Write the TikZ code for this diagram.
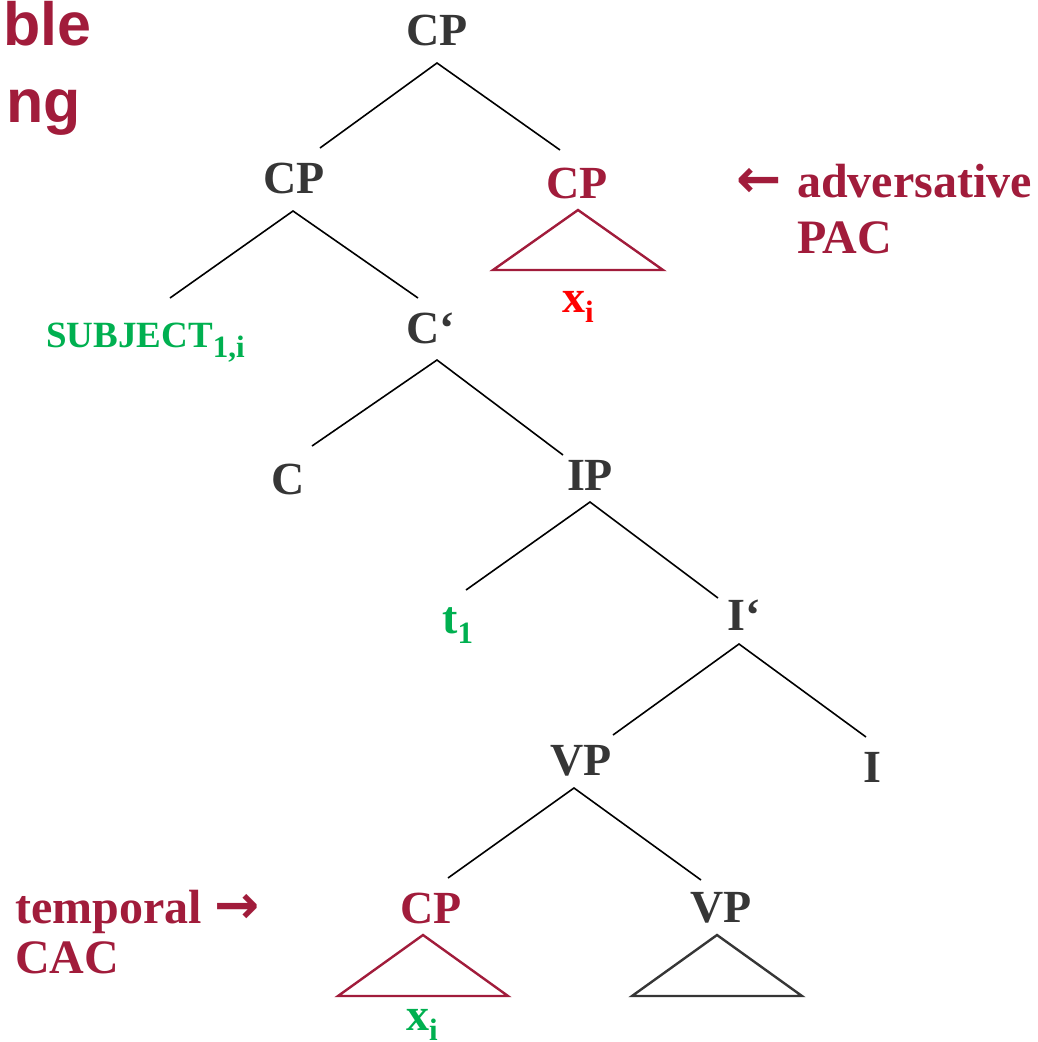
\documentclass[tikz,border=0pt]{standalone}
\usepackage{fontspec}
\setmainfont{Liberation Serif}
\newfontfamily\sansfam{Liberation Sans}
\newfontfamily\arrowfont{DejaVu Sans}
\definecolor{treegray}{HTML}{363636}
\definecolor{darkred}{HTML}{A11C3B}
\definecolor{pgreen}{HTML}{00B050}
\definecolor{pred}{HTML}{FF0000}
\newcommand{\subx}[1]{\raisebox{-10pt}{\fontsize{31}{31}\selectfont #1}}
\begin{document}
\begin{tikzpicture}[x=1pt,y=-1pt,
  lab/.style={inner sep=0pt, font=\fontsize{46}{46}\selectfont\bfseries, text=treegray},
  branch/.style={draw=black, line width=1.6pt},
  tri/.style={line width=2.4pt, line join=miter},
  note/.style={inner sep=0pt, font=\fontsize{48}{48}\selectfont\bfseries, text=darkred, anchor=base west},
  arrownote/.style={inner sep=0pt, font=\arrowfont\bfseries\fontsize{54}{54}\selectfont, text=darkred, anchor=base west}]
\useasboundingbox (0,0) rectangle (1037,1042);
% title fragments
\node[inner sep=0pt, anchor=base west, font=\sansfam\bfseries\fontsize{61}{61}\selectfont, text=darkred] (ble) at (3,45) {ble};
\node[inner sep=0pt, anchor=base west, font=\sansfam\bfseries\fontsize{61}{61}\selectfont, text=darkred] (ng) at (6,122) {ng};
% tree labels
\node[lab, anchor=base] (cp0) at (437,45) {CP};
\node[lab, anchor=base] (cp1) at (294,193) {CP};
\node[lab, anchor=base, text=darkred] (cp2) at (577,198) {CP};
\node[lab, anchor=base west, text=pred] (xi1) at (562,312) {x\subx{i}};
\node[lab, anchor=base west, text=pgreen, font=\fontsize{37}{37}\selectfont\bfseries] (subj) at (46,347) {SUBJECT\subx{1,i}};
\node[lab, anchor=base west] (cbar) at (406,343) {C‘};
\node[lab, anchor=base] (c) at (288,494) {C};
\node[lab, anchor=base] (ip) at (590,490) {IP};
\node[lab, anchor=base west, text=pgreen] (t1) at (442,633) {t\subx{1}};
\node[lab, anchor=base west] (ibar) at (727,630) {I‘};
\node[lab, anchor=base] (vp1) at (581,775) {VP};
\node[lab, anchor=base] (i) at (872,782) {I};
\node[lab, anchor=base, text=darkred] (cp3) at (431,923) {CP};
\node[lab, anchor=base] (vp2) at (721,922) {VP};
\node[lab, anchor=base west, text=pgreen] (xi2) at (406,1030) {x\subx{i}};
% side notes
\node[arrownote] (advarrow) at (736,197) {←};
\node[note] (adv) at (797,197) {adversative};
\node[note] (pac) at (797,253) {PAC};
\node[note] (temp) at (15,923) {temporal};
\node[arrownote] (temparrow) at (214,923) {→};
\node[note] (cac) at (15,973) {CAC};
% branch points
\coordinate (cp0-a) at (437,63);
\coordinate (cp0-l) at (320,148);
\coordinate (cp0-r) at (560,150);
\coordinate (cp1-a) at (293,211);
\coordinate (cp1-l) at (170,298);
\coordinate (cp1-r) at (418,298);
\coordinate (cbar-a) at (437,360);
\coordinate (cbar-l) at (312,446);
\coordinate (cbar-r) at (563,455);
\coordinate (ip-a) at (590,502);
\coordinate (ip-l) at (466,590);
\coordinate (ip-r) at (718,598);
\coordinate (ibar-a) at (739,644);
\coordinate (ibar-l) at (613,735);
\coordinate (ibar-r) at (866,737);
\coordinate (vp1-a) at (574,788);
\coordinate (vp1-l) at (448,878);
\coordinate (vp1-r) at (701,880);
\draw[branch] (cp0-l) -- (cp0-a) -- (cp0-r);
\draw[branch] (cp1-l) -- (cp1-a) -- (cp1-r);
\draw[branch] (cbar-l) -- (cbar-a) -- (cbar-r);
\draw[branch] (ip-l) -- (ip-a) -- (ip-r);
\draw[branch] (ibar-l) -- (ibar-a) -- (ibar-r);
\draw[branch] (vp1-l) -- (vp1-a) -- (vp1-r);
% triangles
\coordinate (t1-a) at (578,210);
\coordinate (t1-l) at (493,270);
\coordinate (t1-r) at (663,270);
\coordinate (t2-a) at (423,935);
\coordinate (t2-l) at (338,996);
\coordinate (t2-r) at (508,996);
\coordinate (t3-a) at (717,935);
\coordinate (t3-l) at (632,996);
\coordinate (t3-r) at (802,996);
\draw[tri, draw=darkred] (t1-a) -- (t1-l) -- (t1-r) -- cycle;
\draw[tri, draw=darkred] (t2-a) -- (t2-l) -- (t2-r) -- cycle;
\draw[tri, draw=treegray] (t3-a) -- (t3-l) -- (t3-r) -- cycle;
\end{tikzpicture}
\end{document}
